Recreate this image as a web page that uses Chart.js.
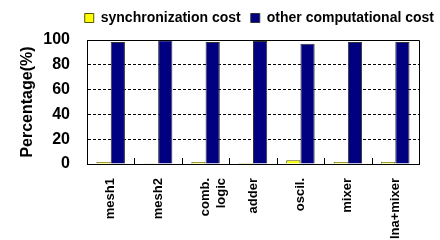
<!DOCTYPE html>
<html>
<head>
<meta charset="utf-8">
<script src="https://cdn.jsdelivr.net/npm/chart.js@4/dist/chart.umd.min.js"></script>
<style>
  html, body { margin: 0; padding: 0; background: #fff; }
  #wrap { width: 440px; height: 240px; position: relative; }
</style>
</head>
<body>
<div id="wrap"><canvas id="c" width="440" height="240"></canvas></div>
<script>
const categories = ["mesh1", "mesh2", ["comb.", "logic"], "adder", "oscil.", "mixer", "lna+mixer"];
const syncCost = [1.6, 0.3, 1.6, 0.8, 3.0, 1.6, 1.6];
const otherCost = [98.4, 99.7, 98.4, 99.2, 97.0, 98.4, 98.4];
const yTicks = [0, 20, 40, 60, 80, 100];

const FONT = "'Liberation Sans', Arial, sans-serif";

const framePlugin = {
  id: 'frame',
  afterLayout(chart) {
    const lg = chart.legend;
    if (lg) {
      lg.right = 444;
      lg.top -= 5;
      lg.bottom -= 5;
    }
  },
  afterDraw(chart) {
    const { ctx, chartArea: a } = chart;
    ctx.save();
    ctx.strokeStyle = '#000';
    ctx.lineWidth = 1;
    const n = categories.length;
    const step = (a.right - a.left) / n;
    for (let i = 1; i < n; i++) {
      const px = Math.round(a.left + i * step) + 0.5;
      ctx.beginPath();
      ctx.moveTo(px, a.bottom);
      ctx.lineTo(px, a.bottom - 6);
      ctx.stroke();
    }
    ctx.beginPath();
    ctx.rect(Math.round(a.left) + 0.5, Math.round(a.top) + 0.5, Math.round(a.right - a.left), Math.round(a.bottom - a.top));
    ctx.stroke();
    ctx.restore();
  }
};

new Chart(document.getElementById('c'), {
  type: 'bar',
  data: {
    labels: categories,
    datasets: [
      { label: 'synchronization cost', data: syncCost, backgroundColor: '#FFFF00', borderColor: '#555500', borderWidth: 1 },
      { label: 'other computational cost', data: otherCost, backgroundColor: '#000080', borderColor: '#333333', borderWidth: 1 }
    ]
  },
  options: {
    responsive: false,
    animation: false,
    devicePixelRatio: 1,
    layout: { padding: { left: 18, right: 21, top: 6, bottom: 0 } },
    datasets: { bar: { categoryPercentage: 0.6, barPercentage: 1.0 } },
    plugins: {
      tooltip: { enabled: false },
      legend: {
        position: 'top',
        align: 'end',
        labels: {
          boxWidth: 9, boxHeight: 9, padding: 10,
          color: '#000',
          font: { family: FONT, size: 14, weight: 'bold' }
        }
      }
    },
    scales: {
      x: {
        grid: { display: false, drawTicks: false },
        border: { display: true, color: '#000' },
        ticks: {
          minRotation: 90, maxRotation: 90, autoSkip: false, padding: 14,
          color: '#000',
          font: { family: FONT, size: 13, weight: 'bold' }
        },
        afterFit(s) { s.height = 76; }
      },
      y: {
        min: 0, max: 100,
        afterBuildTicks(s) { s.ticks = yTicks.map(v => ({ value: v })); },
        grid: { color: '#000', lineWidth: 1, drawTicks: false },
        border: { display: true, color: '#000', dash: [3, 2] },
        ticks: {
          padding: 17, color: '#000',
          font: { family: FONT, size: 16, weight: 'bold' }
        },
        title: {
          display: true, text: 'Percentage(%)', color: '#000', padding: { top: 0, bottom: 6 },
          font: { family: FONT, size: 16, weight: 'bold' }
        },
        afterFit(s) { s.width = 69; }
      }
    }
  },
  plugins: [framePlugin]
});
</script>
</body>
</html>
